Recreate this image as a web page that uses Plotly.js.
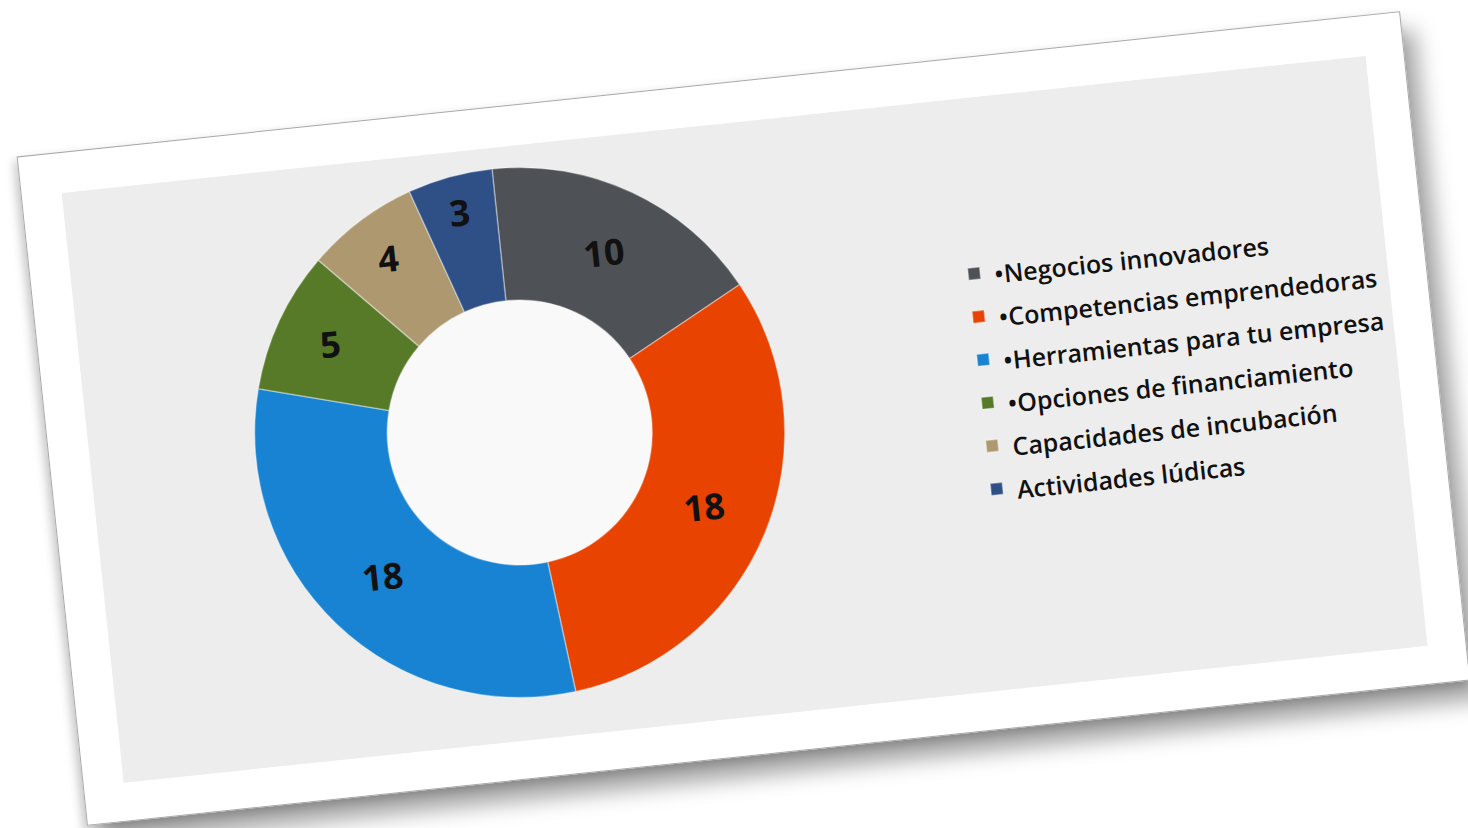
<!DOCTYPE html>
<html>
<head>
<meta charset="utf-8">
<script src="https://cdn.plot.ly/plotly-3.0.1.min.js"></script>
<style>
  html, body { margin:0; padding:0; background:#ffffff; width:1468px; height:828px; overflow:hidden; }
  #card {
    position:absolute; left:48px; top:82px; width:1391px; height:673px;
    background:#ffffff; border:1px solid #a8a8a8; box-sizing:border-box;
    transform:rotate(-6deg); transform-origin:50% 50%;
    box-shadow: -4px 4px 10px rgba(0,0,0,0.18), 12px 20px 22px rgba(0,0,0,0.36);
  }
  #chart { position:absolute; left:40px; top:40px; width:1311px; height:593px; }
  #chart svg { overflow: visible; }
</style>
</head>
<body>
<div id="card"><div id="chart"></div></div>
<script>
const categories = [
  "•Negocios innovadores",
  "•Competencias emprendedoras",
  "•Herramientas para tu empresa",
  "•Opciones de financiamiento",
  "Capacidades de incubación",
  "Actividades lúdicas"
];
const values = [10, 18, 18, 5, 4, 3];
const colors = ["#4e5155", "#e84300", "#1883d2", "#567a28", "#ae986f", "#2f5087"];

const legendLabels = categories.map(c => '<span style="font-size:25px">' + c + '</span>');
const pieDomain = { x: [0.1262, 0.5305], y: [0.0708, 0.9646] };

const data = [
  {
    // white disk seen through the donut hole
    type: "pie",
    labels: ["hole"],
    values: [1],
    domain: pieDomain,
    marker: { colors: ["#f9f9f9"], line: { width: 0 } },
    textinfo: "none",
    hoverinfo: "skip",
    showlegend: false
  },
  {
    type: "pie",
    labels: legendLabels,
    values: values,
    sort: false,
    direction: "clockwise",
    rotation: 0,
    hole: 0.5,
    domain: pieDomain,
    marker: { colors: colors, line: { color: "rgba(255,255,255,0.35)", width: 1.5 } },
    textinfo: "value",
    textposition: "inside",
    insidetextorientation: "horizontal",
    textfont: { family: "Open Sans, sans-serif", size: 36, color: "#111111", weight: 700 },
    hoverinfo: "label+value"
  }
];

const layout = {
  width: 1311, height: 593,
  margin: { l: 0, r: 0, t: 0, b: 0, autoexpand: false },
  paper_bgcolor: "#ededed",
  showlegend: true,
  legend: {
    x: 0.6705, xanchor: "left", y: 0.749, yanchor: "top",
    bgcolor: "rgba(0,0,0,0)",
    font: { family: "Open Sans, sans-serif", size: 31, color: "#111111", weight: 600 },
    traceorder: "normal"
  }
};

Plotly.newPlot("chart", data, layout, { displayModeBar: false, staticPlot: true });
</script>
</body>
</html>
